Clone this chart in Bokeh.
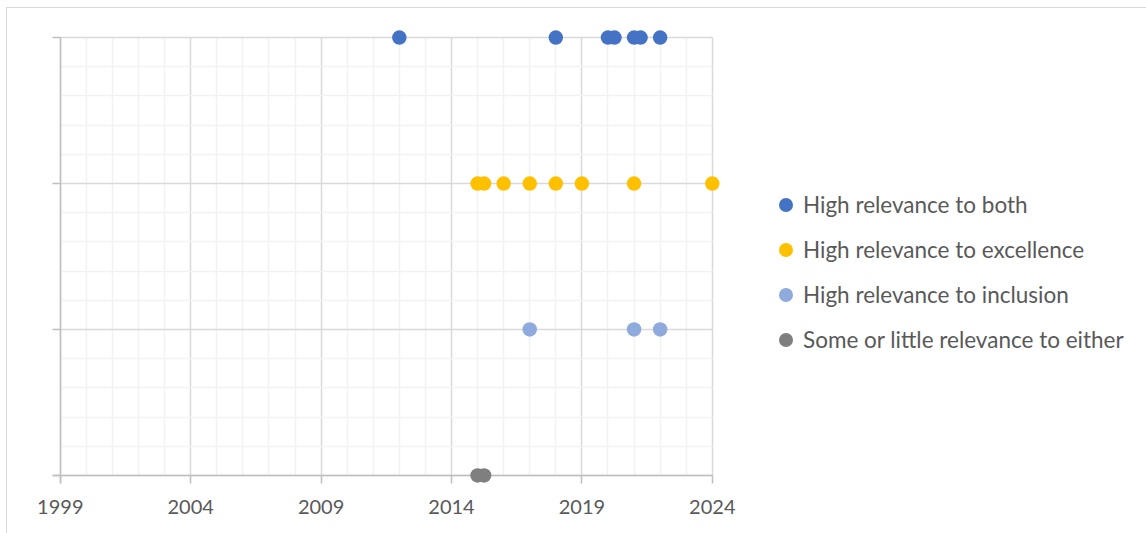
from bokeh.plotting import figure
from bokeh.models import (Range1d, FixedTicker, Legend, LegendItem, Grid,
                          ColumnDataSource)
from bokeh.embed import file_html
from bokeh.resources import INLINE

# Years in which each kind of item appeared (a quarter-year offset separates
# two items that fall in the same year)
both_years = [2012, 2018, 2020, 2020.25, 2021, 2021.25, 2022]
excellence_years = [2015, 2015.25, 2016, 2017, 2018, 2019, 2021, 2024]
inclusion_years = [2017, 2021, 2022]
either_years = [2015, 2015.25]

series_names = [
    "High relevance to both",
    "High relevance to excellence",
    "High relevance to inclusion",
    "Some or little relevance to either",
]
series_levels = [3, 2, 1, 0]
series_colors = ["#4472C4", "#FFC000", "#8FAADC", "#7F7F7F"]

x_ticks = [1999, 2004, 2009, 2014, 2019, 2024]
x_minor = [y for y in range(1999, 2025) if y not in x_ticks]
y_ticks = [0, 1, 2, 3]
y_minor = [round(i * 0.2, 1) for i in range(16) if i % 5 != 0]

# small padding so markers on the limits are not cut; the frame also runs on
# to the right edge so that the legend can sit inside it
X_PAD, Y_PAD = 0.3, 0.055
X_END = 2040.65

TEXT = "#595959"
AXIS = "#BFBFBF"
FONT = "Lato"

p = figure(
    width=1146, height=533,
    x_range=Range1d(x_ticks[0] - X_PAD, X_END),
    y_range=Range1d(y_ticks[0] - Y_PAD, y_ticks[-1] + Y_PAD),
    output_backend="svg", toolbar_location=None,
    min_border_left=52, min_border_right=0,
    min_border_top=29, min_border_bottom=50,
    background_fill_color=None, border_fill_color=None,
    outline_line_color=None,
)
# thin frame around the whole chart area, seen through the transparent canvas
p.styles = {
    "background-color": "white",
    "background-image": "linear-gradient(#D9D9D9, #D9D9D9), linear-gradient(#D9D9D9, #D9D9D9)",
    "background-size": "1px 100%, 100% 1px",
    "background-position": "6px 7px, 6px 7px",
    "background-repeat": "no-repeat",
}

renderers = []
for years, level, color in zip(
        [both_years, excellence_years, inclusion_years, either_years],
        series_levels, series_colors):
    src = ColumnDataSource(dict(x=years, y=[level] * len(years)))
    r = p.scatter("x", "y", source=src, size=14.5, fill_color=color,
                  line_color=None)
    renderers.append(r)

# Axes sit on the padded frame edge; their ticks point inward so they end
# on the data limits, where the axis lines are drawn as grid lines below
xa = p.xaxis[0]
xa.ticker = FixedTicker(ticks=x_ticks, minor_ticks=x_minor)
xa.bounds = (x_ticks[0], x_ticks[-1])
xa.axis_line_color = None
xa.major_tick_line_color = AXIS
xa.major_tick_line_width = 1.5
xa.major_tick_in = 8
xa.major_tick_out = 0
xa.minor_tick_line_color = None
xa.major_label_text_font = FONT
xa.major_label_text_font_size = "20px"
xa.major_label_text_color = TEXT
xa.major_label_standoff = 12

ya = p.yaxis[0]
ya.ticker = FixedTicker(ticks=y_ticks, minor_ticks=y_minor)
ya.axis_line_color = None
ya.major_tick_line_color = AXIS
ya.major_tick_line_width = 1.5
ya.major_tick_in = 8
ya.major_tick_out = 0
ya.minor_tick_line_color = None
ya.major_label_overrides = {t: "" for t in y_ticks}
ya.major_label_text_font_size = "0px"

xg = p.xgrid[0]
xg.ticker = FixedTicker(ticks=x_ticks, minor_ticks=x_minor)
xg.bounds = (x_ticks[0], x_ticks[-1])
xg.cross_bounds = (y_ticks[0], y_ticks[-1])
xg.grid_line_color = "#D9D9D9"
xg.grid_line_width = 1.5
xg.minor_grid_line_color = "#F2F2F2"
xg.minor_grid_line_width = 1.5

yg = p.ygrid[0]
yg.ticker = FixedTicker(ticks=y_ticks, minor_ticks=y_minor)
yg.cross_bounds = (x_ticks[0], x_ticks[-1])
yg.grid_line_color = "#D9D9D9"
yg.grid_line_width = 1.5
yg.minor_grid_line_color = "#F2F2F2"
yg.minor_grid_line_width = 1.5

# axis lines
p.add_layout(Grid(dimension=1, ticker=FixedTicker(ticks=[y_ticks[0]]),
                  cross_bounds=(x_ticks[0] - X_PAD, x_ticks[-1]),
                  grid_line_color=AXIS, grid_line_width=1.5))
p.add_layout(Grid(dimension=0, ticker=FixedTicker(ticks=[x_ticks[0]]),
                  cross_bounds=(y_ticks[0] - Y_PAD, y_ticks[-1]),
                  grid_line_color=AXIS, grid_line_width=1.5))

legend = Legend(
    items=[LegendItem(label=n, renderers=[r]) for n, r in zip(series_names, renderers)],
    location=(716, 126.5),
    glyph_width=35, glyph_height=35, label_height=35,
    label_standoff=-12, spacing=10, padding=0, margin=0,
    label_text_font=FONT, label_text_font_size="22.5px",
    label_text_color=TEXT,
    border_line_color=None, background_fill_color=None,
)
p.add_layout(legend, "center")

open("out.html", "w").write(file_html(p, INLINE))
